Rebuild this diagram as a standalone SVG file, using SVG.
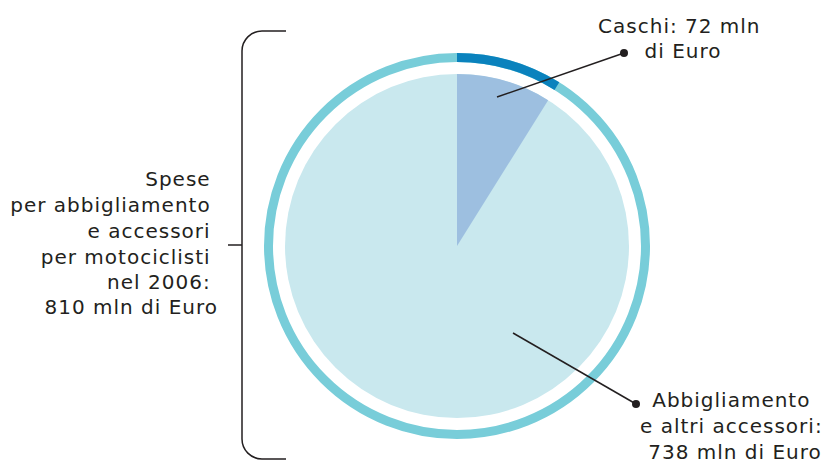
<svg xmlns="http://www.w3.org/2000/svg" width="826" height="464" viewBox="0 0 826 464">
  <style>
    .t { font-family: "DejaVu Sans", "Liberation Sans", sans-serif; font-size: 20px; fill: #231f20; letter-spacing: 1px; }
    .ln { fill: none; stroke: #231f20; stroke-width: 1.5; }
    .dot { fill: #231f20; }
  </style>
  <rect width="826" height="464" fill="#ffffff"/>
  <g id="ring">
    <circle cx="457" cy="246" r="188.5" fill="none" stroke="#78cdd9" stroke-width="9"/>
    <path d="M 457 57.5 A 188.5 188.5 0 0 1 556.9 86.15" fill="none" stroke="#0a82bd" stroke-width="9"/>
  </g>
  <g id="pie">
    <circle id="slice-abbigliamento" cx="457" cy="246" r="172" fill="#c9e8ee"/>
    <path id="slice-caschi" d="M 457 246 L 457 74 A 172 172 0 0 1 548.14 100.14 Z" fill="#9dbfe0"/>
  </g>
  <g id="connectors">
    <path class="ln" d="M 497 97 L 624 53"/>
    <circle class="dot" cx="624" cy="53" r="4"/>
    <path class="ln" d="M 513 333 L 636 404"/>
    <circle class="dot" cx="636" cy="404" r="4"/>
    <path class="ln" d="M 286 31 H 262 A 20 20 0 0 0 242 51 V 439 A 20 20 0 0 0 262 459 H 286"/>
    <path class="ln" d="M 228 245 H 242"/>
  </g>
  <g id="label-total">
    <text class="t" text-anchor="end">
      <tspan x="218" y="186">Spese</tspan>
      <tspan x="218" y="212">per abbigliamento</tspan>
      <tspan x="218" y="238">e accessori</tspan>
      <tspan x="218" y="264">per motociclisti</tspan>
      <tspan x="218" y="289">nel 2006:</tspan>
      <tspan x="218" y="314">810 mln di Euro</tspan>
    </text>
  </g>
  <g id="label-caschi">
    <text class="t" text-anchor="middle">
      <tspan x="683" y="33">Caschi: 72 mln</tspan>
      <tspan x="683" y="58">di Euro</tspan>
    </text>
  </g>
  <g id="label-abbigliamento">
    <text class="t" text-anchor="middle">
      <tspan x="735" y="407">Abbigliamento</tspan>
      <tspan x="735" y="433">e altri accessori:</tspan>
      <tspan x="735" y="459">738 mln di Euro</tspan>
    </text>
  </g>
</svg>
